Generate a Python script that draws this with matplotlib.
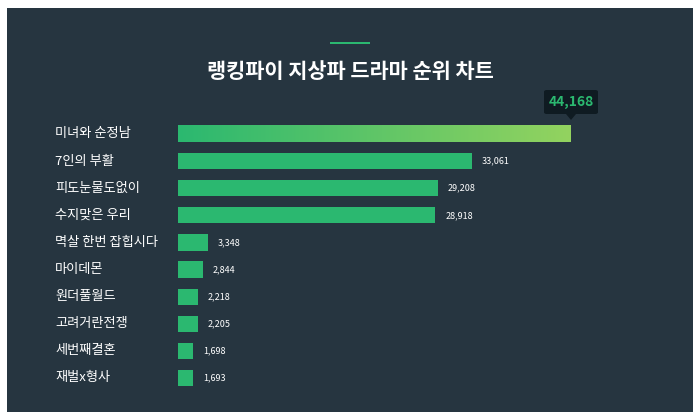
import matplotlib.pyplot as plt
import numpy as np
from matplotlib.patches import Rectangle, FancyBboxPatch, Polygon
from matplotlib.colors import LinearSegmentedColormap

plt.rcParams['font.family'] = ['Noto Sans CJK KR', 'Noto Sans CJK JP', 'Noto Sans CJK SC',
                               'Noto Sans CJK TC', 'DejaVu Sans']

titles = ['미녀와 순정남', '7인의 부활', '피도눈물도없이', '수지맞은 우리', '멱살 한번 잡힙시다',
          '마이데몬', '원더풀월드', '고려거란전쟁', '세번째결혼', '재벌x형사']
scores = [44168, 33061, 29208, 28918, 3348, 2844, 2218, 2205, 1698, 1693]

W, H = 700, 420
bg = '#263540'
green = '#2bb870'

fig = plt.figure(figsize=(7, 4.2), dpi=100)
fig.patch.set_facecolor('white')
fig.patches.append(Rectangle((7 / W, 8 / H), 686 / W, 404 / H, transform=fig.transFigure,
                             facecolor=bg, edgecolor='none', zorder=-5))

ax = fig.add_axes([178 / W, 1 - 391.5 / H, 393 / W, 271 / H])
ax.set_zorder(2)
ax.set_facecolor('none')
ax.axis('off')

bh = 0.6
for i, v in enumerate(scores):
    if i == 0:
        grad = np.linspace(0, 1, 256).reshape(1, -1)
        cm = LinearSegmentedColormap.from_list('g', [green, '#93d35f'])
        ax.imshow(grad, cmap=cm, aspect='auto', extent=(0, v, i + bh / 2, i - bh / 2), zorder=2)
    else:
        ax.barh(i, v, height=bh, color=green, zorder=2)
        ax.text(v + 1100, i, f'{v:,}', color='white', fontsize=6.5, va='center', ha='left')
    fig.text(55 / W, 1 - (134 + 27.1 * i) / H, titles[i], color='white', fontsize=9.5,
             va='center', ha='left', zorder=3)
ax.set_ylim(len(scores) - 0.5, -0.5)
ax.set_xlim(0, scores[0])

# title
fig.text(0.5, 1 - 72 / H, '랭킹파이 지상파 드라마 순위 차트', color='white', fontsize=15,
         fontweight='bold', ha='center', va='center', zorder=3)
fig.patches.append(Rectangle((330 / W, 1 - 44 / H), 40 / W, 2.5 / H, transform=fig.transFigure,
                             facecolor=green, edgecolor='none', zorder=1))

# tooltip
tx, ty = 571, 102
fig.patches.append(FancyBboxPatch(((tx - 27) / W, 1 - (ty + 12) / H), 54 / W, 24 / H,
                                  boxstyle='round,pad=0,rounding_size=0.004',
                                  transform=fig.transFigure, facecolor='#0f1b22',
                                  edgecolor='none', zorder=1))
fig.patches.append(Polygon([((tx - 5) / W, 1 - (ty + 12) / H), ((tx + 5) / W, 1 - (ty + 12) / H),
                            (tx / W, 1 - (ty + 18) / H)], transform=fig.transFigure,
                           facecolor='#0f1b22', edgecolor='none', zorder=1))
fig.text(tx / W, 1 - ty / H, f'{scores[0]:,}', color=green, fontsize=10, fontweight='bold',
         ha='center', va='center', zorder=3)

fig.savefig('out.png', dpi=100)
